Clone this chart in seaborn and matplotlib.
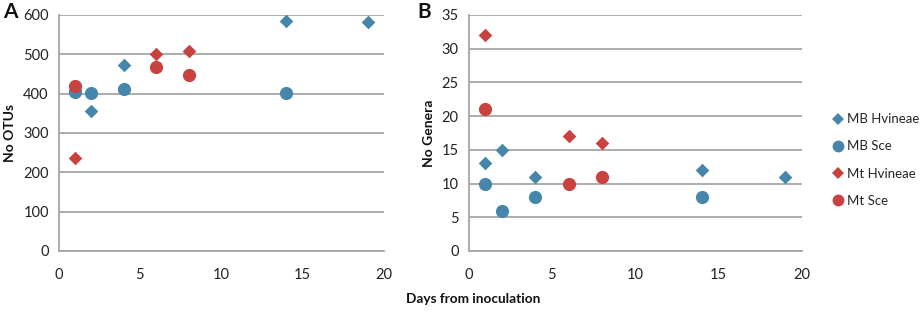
import matplotlib
matplotlib.use("Agg")
import matplotlib.pyplot as plt
import seaborn as sns
import pandas as pd
from matplotlib.lines import Line2D

sns.set_theme(style="white")
plt.rcParams['font.family'] = ['Lato', 'DejaVu Sans']

series = ["MB Hvineae", "MB Sce", "Mt Hvineae", "Mt Sce"]
colors = {"MB Hvineae": "#4786AB", "MB Sce": "#4786AB", "Mt Hvineae": "#C8423F", "Mt Sce": "#C8423F"}
markers = {"MB Hvineae": "D", "MB Sce": "o", "Mt Hvineae": "D", "Mt Sce": "o"}
msize = {"MB Hvineae": 48, "MB Sce": 90, "Mt Hvineae": 48, "Mt Sce": 90}

# Panel A: No OTUs
mb_hv_days = [1, 2, 4, 14, 19]
mb_hv_otus = [410, 356, 472, 585, 582]
mb_sce_days = [1, 2, 4, 14]
mb_sce_otus = [404, 402, 411, 402]
mt_hv_days = [1, 6, 8]
mt_hv_otus = [236, 500, 509]
mt_sce_days = [1, 6, 8]
mt_sce_otus = [419, 468, 447]

# Panel B: No Genera
mb_hv_genera = [13, 15, 11, 12, 11]
mb_sce_genera = [10, 6, 8, 8]
mt_hv_genera = [32, 17, 16]
mt_sce_genera = [21, 10, 11]

def frame(days, vals, name):
    return pd.DataFrame({"day": days, "val": vals, "series": name})

dfA = [frame(mb_hv_days, mb_hv_otus, "MB Hvineae"), frame(mb_sce_days, mb_sce_otus, "MB Sce"),
       frame(mt_hv_days, mt_hv_otus, "Mt Hvineae"), frame(mt_sce_days, mt_sce_otus, "Mt Sce")]
dfB = [frame(mb_hv_days, mb_hv_genera, "MB Hvineae"), frame(mb_sce_days, mb_sce_genera, "MB Sce"),
       frame(mt_hv_days, mt_hv_genera, "Mt Hvineae"), frame(mt_sce_days, mt_sce_genera, "Mt Sce")]

fig = plt.figure(figsize=(9.21, 3.17), dpi=100)
W, H = 921, 317
axA = fig.add_axes([58.5 / W, (H - 251) / H, (384 - 58.5) / W, (251 - 15) / H])
axB = fig.add_axes([468.5 / W, (H - 251) / H, (802 - 468.5) / W, (251 - 15) / H])

grid_c = "#A6A6A6"
for ax, dfs, ymax, ystep, ylabel in [(axA, dfA, 600, 100, "No OTUs"), (axB, dfB, 35, 5, "No Genera")]:
    for df in dfs:
        name = df["series"].iloc[0]
        sns.scatterplot(data=df, x="day", y="val", ax=ax, color=colors[name],
                        marker=markers[name], s=msize[name], linewidth=0, zorder=3, legend=False)
    ax.set_xlim(0, 20)
    ax.set_ylim(0, ymax)
    ax.set_xticks(range(0, 21, 5))
    ax.set_yticks(range(0, ymax + 1, ystep))
    ax.yaxis.grid(True, color=grid_c, linewidth=1.3)
    ax.xaxis.grid(False)
    for s in ["top", "right"]:
        ax.spines[s].set_visible(False)
    for s in ["left", "bottom"]:
        ax.spines[s].set_color(grid_c)
        ax.spines[s].set_linewidth(1.3)
    ax.tick_params(axis="both", which="both", direction="out", length=4, width=1.2,
                   color=grid_c, labelsize=10.5, labelcolor="#222222", pad=3)
    ax.tick_params(axis="x", pad=8)
    ax.set_xlabel("")
    ax.set_ylabel(ylabel, fontsize=10, fontweight="bold", color="#111111", labelpad=5)
    ax.set_facecolor("white")

fig.text(3 / W, 1 - 12 / H, "A", fontsize=15, fontweight="bold", va="center", ha="left", color="#111111")
fig.text(417 / W, 1 - 12 / H, "B", fontsize=15, fontweight="bold", va="center", ha="left", color="#111111")
fig.text(473 / W, 1 - 299 / H, "Days from inoculation", fontsize=9.8, fontweight="bold",
         ha="center", va="center", color="#111111")

handles = [Line2D([], [], linestyle="none", marker=markers[n], color=colors[n],
                  markersize=(6 if markers[n] == "D" else 8.5), markeredgewidth=0) for n in series]
fig.legend(handles, series, loc="center left", bbox_to_anchor=(826 / W, 1 - 160 / H),
           frameon=False, fontsize=9.5, labelspacing=1.15, handletextpad=0.2,
           handlelength=1.0, borderaxespad=0)

fig.savefig("out.png", dpi=100)
